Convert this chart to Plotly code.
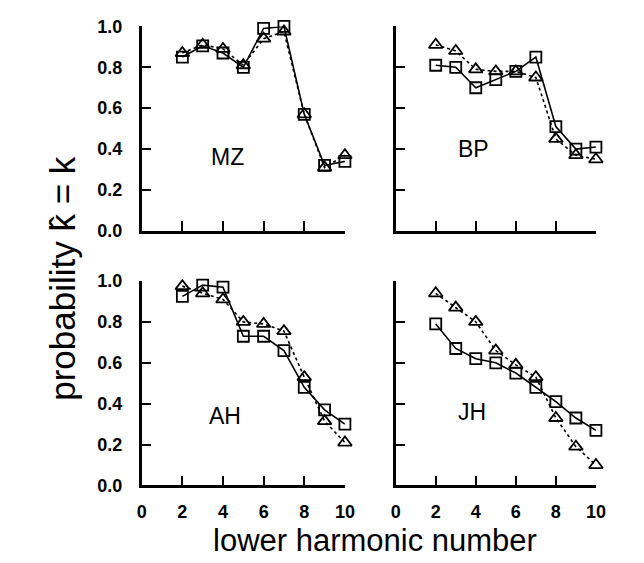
import plotly.graph_objects as go

harmonic = [2, 3, 4, 5, 6, 7, 8, 9, 10]

panels = ["MZ", "BP", "AH", "JH"]

squares = {
    "MZ": [0.85, 0.905, 0.87, 0.80, 0.99, 1.00, 0.57, 0.32, 0.34],
    "BP": [0.81, 0.80, 0.70, 0.74, 0.78, 0.85, 0.51, 0.40, 0.41],
    "AH": [0.925, 0.98, 0.97, 0.73, 0.73, 0.66, 0.48, 0.37, 0.30],
    "JH": [0.79, 0.67, 0.62, 0.60, 0.55, 0.48, 0.41, 0.33, 0.27],
}
triangles = {
    "MZ": [0.87, 0.91, 0.89, 0.81, 0.94, 0.975, 0.57, 0.31, 0.37],
    "BP": [0.91, 0.88, 0.79, 0.78, 0.78, 0.75, 0.45, 0.37, 0.35],
    "AH": [0.975, 0.94, 0.91, 0.80, 0.79, 0.755, 0.53, 0.315, 0.21],
    "JH": [0.94, 0.87, 0.80, 0.66, 0.59, 0.53, 0.33, 0.19, 0.10],
}

x_ticks = [0, 2, 4, 6, 8, 10]
x_ticktext = ["0", "2", "4", "6", "8", "10"]
y_ticks = [0.0, 0.2, 0.4, 0.6, 0.8, 1.0]
y_ticktext = ["0.0", "0.2", "0.4", "0.6", "0.8", "1.0"]

W, H = 644, 563
xdom = {"L": [140 / W, 348 / W], "R": [400 / W, 605 / W]}
ydom = {"T": [1 - 229 / H, 1 - 17 / H], "B": [1 - 493 / H, 1 - 281 / H]}
pos = {"MZ": ("L", "T"), "BP": ("R", "T"), "AH": ("L", "B"), "JH": ("R", "B")}
label_pos = {"MZ": (4.2, 0.36), "BP": (3.9, 0.4), "AH": (4.1, 0.34), "JH": (3.8, 0.36)}

fig = go.Figure()
layout = dict(
    width=W, height=H, margin=dict(l=0, r=0, t=0, b=0),
    paper_bgcolor="white", plot_bgcolor="white", showlegend=False,
    font=dict(family="Liberation Sans, Arial", color="black"),
)
annotations = []

for i, name in enumerate(panels):
    n = i + 1
    xa = "x" if n == 1 else f"x{n}"
    ya = "y" if n == 1 else f"y{n}"
    col, row = pos[name]
    fig.add_trace(go.Scatter(
        x=harmonic, y=squares[name], xaxis=xa, yaxis=ya, mode="lines+markers",
        cliponaxis=False,
        line=dict(color="black", width=1.6),
        marker=dict(symbol="square-open", size=11, color="black", line=dict(width=1.8)),
    ))
    fig.add_trace(go.Scatter(
        x=harmonic, y=triangles[name], xaxis=xa, yaxis=ya, mode="lines+markers",
        cliponaxis=False,
        line=dict(color="black", width=1.6, dash="dot"),
        marker=dict(symbol="triangle-up-open", size=12, color="black", line=dict(width=1.8)),
    ))
    xkey = "xaxis" if n == 1 else f"xaxis{n}"
    ykey = "yaxis" if n == 1 else f"yaxis{n}"
    layout[xkey] = dict(
        domain=xdom[col], anchor=ya, range=[0, 10], tickvals=x_ticks, ticktext=x_ticktext,
        ticks="inside", ticklen=10, tickwidth=2.2, tickcolor="black",
        showline=True, linecolor="black", linewidth=2.5, showgrid=False, zeroline=False,
        showticklabels=(row == "B"), ticklabelstandoff=8,
        tickfont=dict(size=18, weight="bold", color="black"),
    )
    layout[ykey] = dict(
        domain=ydom[row], anchor=xa, range=[0, 1], tickvals=y_ticks, ticktext=y_ticktext,
        ticks="inside", ticklen=10, tickwidth=2.2, tickcolor="black",
        showline=True, linecolor="black", linewidth=2.5, showgrid=False, zeroline=False,
        showticklabels=(col == "L"), ticklabelstandoff=13,
        tickfont=dict(size=18, weight="bold", color="black"),
    )
    lx, ly = label_pos[name]
    annotations.append(dict(
        x=lx, y=ly, xref=xa, yref=ya, text=name, showarrow=False,
        xanchor="center", yanchor="middle",
        font=dict(size=23, color="black"),
    ))

annotations.append(dict(
    x=58 / W, y=1 - 278 / H, xref="paper", yref="paper", text="probability k\u0302 = k",
    textangle=-90, showarrow=False, xanchor="center", yanchor="middle",
    font=dict(size=35, color="black"),
))
annotations.append(dict(
    x=379 / W, y=1 - 550 / H, xref="paper", yref="paper", text="lower harmonic number",
    showarrow=False, xanchor="center", yanchor="middle",
    font=dict(size=31, color="black"),
))
layout["annotations"] = annotations
fig.update_layout(**layout)
fig.write_html("out.html")
